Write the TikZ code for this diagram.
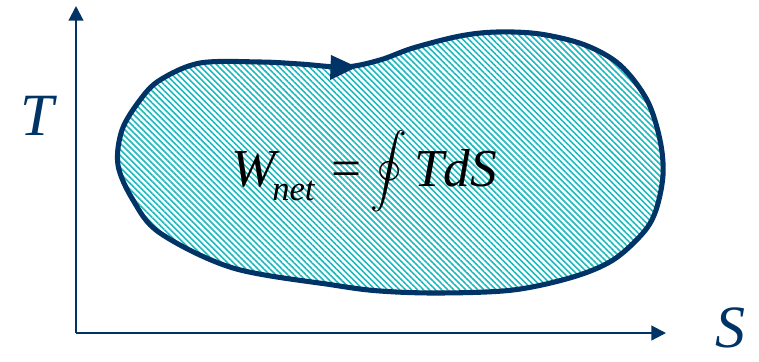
\documentclass[tikz,border=0pt]{standalone}
\usepackage{fontspec}
\setmainfont{Liberation Serif}
\usetikzlibrary{patterns.meta,arrows.meta}
\definecolor{navy}{RGB}{0,51,102}
\definecolor{hatchc}{RGB}{30,185,190}
\tikzset{
  axis/.style={draw=navy,line width=1.6pt,-{Triangle[width=11pt,length=11pt]}},
  cyclepath/.style={draw=navy,line width=3.8pt,line join=round},
  lbl/.style={text=navy,font=\fontsize{45}{48}\selectfont\itshape,inner sep=0pt},
  eqn/.style={text=black,font=\fontsize{40}{44}\selectfont\itshape,inner sep=0pt},
}
\begin{document}
\begin{tikzpicture}[x=0.75pt,y=-0.75pt]
\useasboundingbox (0,0) rectangle (759,361);
% hatched region
\def\cyclecoords{(118,165)(122,130)(140,100)(160,80)(200,63)(260,62)(300,64)(345,67)(380,60)(413,48)(460,36)(497,32)(540,34)(585,45)(620,65)(647,100)(660,140)(663,175)(656,210)(643,233)(613,260)(573,277)(513,290)(440,293)(380,291)(333,285)(233,268)(160,233)(133,200)}
\fill[pattern={Lines[angle=-45,distance=3.2pt,line width=1.2pt]},pattern color=hatchc]
  plot[smooth cycle,tension=0.55] coordinates {\cyclecoords};
\draw[cyclepath] plot[smooth cycle,tension=0.55] coordinates {\cyclecoords};
% direction arrow
\coordinate (dirtip) at (357,67);
\fill[navy] (331,55) -- (dirtip) -- (330,80) -- cycle;
% axes
\coordinate (O) at (76,333);
\coordinate (Ttop) at (76,6);
\coordinate (Send) at (666,333);
\draw[axis] (O) -- (Ttop);
\draw[axis] (O) -- (Send);
\node[lbl] (Tlab) at (37,116) {T};
\node[lbl] (Slab) at (730,328) {S};
% formula
\node[eqn,anchor=base west] (W) at (231,186) {W};
\node[eqn,font=\fontsize{26}{28}\selectfont\itshape,anchor=base west] (net) at (272,200) {net};
\node[eqn,font=\fontsize{40}{44}\selectfont,anchor=base west] (eq) at (331,186) {=};
\node[inner sep=0pt,scale=2.75] (oint) at (389,171) {$\displaystyle\oint$};
\node[eqn,anchor=base west] (tds) at (414,186) {TdS};
\end{tikzpicture}
\end{document}
